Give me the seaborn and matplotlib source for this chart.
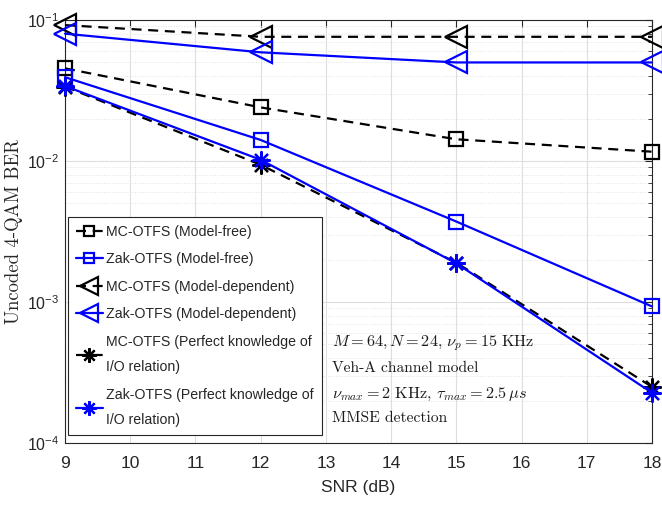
import numpy as np
import pandas as pd
import matplotlib
matplotlib.use("Agg")
import matplotlib.pyplot as plt
from matplotlib.lines import Line2D
from matplotlib.ticker import LogLocator, NullFormatter, FixedLocator
import seaborn as sns

# SNR points (dB)
snr = [9, 12, 15, 18]

# Uncoded 4-QAM BER for each receiver
mc_model_free = [0.0454, 0.0240, 0.01426, 0.01164]
zak_model_free = [0.0393, 0.0141, 0.00372, 0.00093]
mc_model_dep = [0.092, 0.076, 0.076, 0.076]
zak_model_dep = [0.080, 0.059, 0.050, 0.050]
mc_perfect = [0.0337, 0.0094, 0.00190, 0.000250]
zak_perfect = [0.0340, 0.0102, 0.00188, 0.000227]

labels = [
    "MC-OTFS (Model-free)",
    "Zak-OTFS (Model-free)",
    "MC-OTFS (Model-dependent)",
    "Zak-OTFS (Model-dependent)",
    "MC-OTFS (Perfect knowledge of\nI/O relation)",
    "Zak-OTFS (Perfect knowledge of\nI/O relation)",
]
series = [mc_model_free, zak_model_free, mc_model_dep, zak_model_dep,
          mc_perfect, zak_perfect]

sns.set_style("white")
plt.rcParams["font.family"] = ["Liberation Sans", "DejaVu Sans"]
plt.rcParams["mathtext.fontset"] = "cm"
plt.rcParams["axes.unicode_minus"] = False

BLUE = (0, 0, 1)
BLACK = (0, 0, 0)
DASH = (0, (4.5, 3.0))
asterisk = (8, 2, 0)
styles = [
    dict(color=BLACK, ls=DASH, marker="s", ms=9.5),
    dict(color=BLUE, ls="-", marker="s", ms=9.5),
    dict(color=BLACK, ls=DASH, marker="<", ms=16),
    dict(color=BLUE, ls="-", marker="<", ms=16),
    dict(color=BLACK, ls=DASH, marker=asterisk, ms=13),
    dict(color=BLUE, ls="-", marker=asterisk, ms=13),
]

fig = plt.figure(figsize=(6.62, 5.08), dpi=100)
ax = fig.add_axes([65 / 662, 1 - 443 / 508, 587 / 662, 423 / 508])

handles = []
for lab, vals, st in zip(labels, series, styles):
    df = pd.DataFrame({"SNR": snr, "BER": vals})
    sns.lineplot(data=df, x="SNR", y="BER", ax=ax, color=st["color"],
                 linestyle=st["ls"], linewidth=1.6, marker=st["marker"],
                 markersize=st["ms"], markerfacecolor="none",
                 markeredgecolor=st["color"], markeredgewidth=1.6,
                 legend=False, clip_on=False, zorder=3)
    handles.append(Line2D([], [], color=st["color"], linestyle=st["ls"],
                          linewidth=1.6, marker=st["marker"],
                          markersize=st["ms"] * 0.8, markerfacecolor="none",
                          markeredgecolor=st["color"], markeredgewidth=1.6))

ax.set_yscale("log")
ax.set_xlim(9, 18)
ax.set_ylim(1e-4, 1e-1)
ax.xaxis.set_major_locator(FixedLocator(np.arange(9, 19)))
ax.yaxis.set_major_locator(LogLocator(base=10, numticks=10))
ax.yaxis.set_minor_locator(LogLocator(base=10, subs=np.arange(2, 10), numticks=20))
ax.yaxis.set_minor_formatter(NullFormatter())

ax.grid(True, which="major", color="#dedede", linewidth=0.8, linestyle="-")
ax.grid(True, which="minor", axis="y", color="#e2e2e2", linewidth=0.7, linestyle=":")
ax.set_axisbelow(True)

edge = "#262626"
for sp in ax.spines.values():
    sp.set_color(edge)
    sp.set_linewidth(0.8)
ax.tick_params(which="both", direction="in", top=True, right=True,
               colors=edge, labelcolor="#262626")
ax.tick_params(which="major", length=5)
ax.tick_params(axis="x", which="major", pad=9, labelsize=12.5)
ax.tick_params(axis="y", which="major", pad=4, labelsize=11.5)
ax.tick_params(which="minor", length=3)

ax.set_xlabel("SNR (dB)", fontsize=12.5, labelpad=7)
ax.set_ylabel("Uncoded 4-QAM BER", family="cmr10", fontsize=13.5)
ax.yaxis.set_label_coords(-0.071, 0.5)

leg = ax.legend(handles, labels, loc="upper left", bbox_to_anchor=(0.005, 0.534),
                fontsize=10.2, frameon=True, fancybox=False, framealpha=1,
                edgecolor="#262626", handlelength=1.9, handletextpad=0.25,
                labelspacing=0.95, borderpad=0.55, borderaxespad=0)
leg.get_frame().set_linewidth(0.8)
for t in leg.get_texts():
    t.set_linespacing(2.05)

info = [
    (r"$M = 64, N = 24,\, \nu_p = 15\ \mathrm{KHz}$", 11.7),
    ("Veh-A channel model", 11.2),
    (r"$\nu_{max} = 2\ \mathrm{KHz},\, \tau_{max} = 2.5\, \mu s$", 11.7),
    ("MMSE detection", 11.2),
]
ys = [0.236, 0.177, 0.116, 0.059]
for (txt, fs), yy in zip(info, ys):
    ax.text(0.455, yy, txt, transform=ax.transAxes, family="cmr10",
            fontsize=fs, va="center", ha="left", color="#1a1a1a")

fig.savefig("out.png", dpi=100)
